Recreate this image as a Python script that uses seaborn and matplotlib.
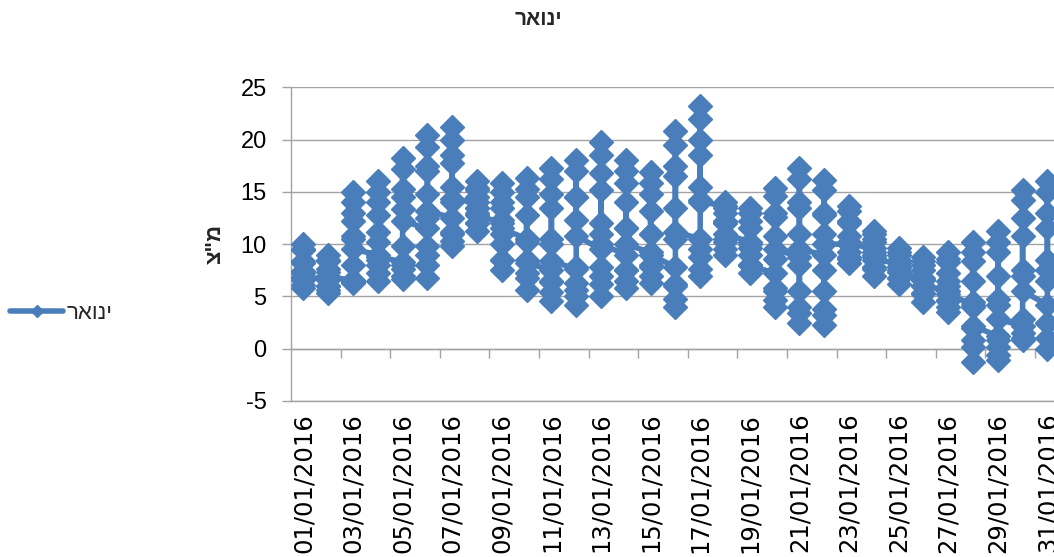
import numpy as np
import pandas as pd
import matplotlib
matplotlib.use("Agg")
import matplotlib.pyplot as plt
import seaborn as sns

# ---------------- data ----------------
dates = ["01/01/2016", "02/01/2016", "03/01/2016", "04/01/2016", "05/01/2016",
         "06/01/2016", "07/01/2016", "08/01/2016", "09/01/2016", "10/01/2016",
         "11/01/2016", "12/01/2016", "13/01/2016", "14/01/2016", "15/01/2016",
         "16/01/2016", "17/01/2016", "18/01/2016", "19/01/2016", "20/01/2016",
         "21/01/2016", "22/01/2016", "23/01/2016", "24/01/2016", "25/01/2016",
         "26/01/2016", "27/01/2016", "28/01/2016", "29/01/2016", "30/01/2016",
         "31/01/2016"]
hours = ["00:00", "02:00", "04:00", "06:00", "08:00", "10:00",
         "12:00", "14:00", "16:00", "18:00", "20:00", "22:00"]

# temperature at each reading hour, one value per day
h00 = [7.2, 6.6, 6.6, 9.0, 8.3, 11.5, 12.5, 14.0, 12.0, 10.5, 7.5, 7.6, 9.5, 9.0, 9.2, 7.8,
       10.5, 13.5, 10.2, 7.2, 8.8, 9.0, 10.0, 9.6, 8.2, 6.8, 5.5, 4.2, 1.2, 2.2, 4.2]
h02 = [6.6, 6.0, 6.4, 8.0, 7.6, 9.8, 11.2, 13.0, 10.0, 8.5, 6.4, 6.3, 7.8, 7.5, 8.0, 6.0,
       8.8, 12.2, 9.0, 5.8, 5.5, 5.5, 9.2, 8.8, 7.5, 6.0, 4.7, 2.0, 0.2, 1.5, 2.5]
h04 = [6.1, 5.6, 6.3, 7.2, 7.0, 8.0, 10.3, 12.0, 8.5, 6.8, 5.4, 5.0, 6.2, 6.5, 7.0, 4.8,
       7.6, 10.5, 8.0, 4.7, 3.4, 3.2, 8.6, 7.6, 6.8, 5.2, 4.0, 0.2, -0.6, 1.0, 1.0]
h06 = [5.8, 5.3, 6.5, 6.5, 6.7, 6.8, 9.8, 11.3, 7.5, 5.6, 4.6, 4.2, 5.0, 5.8, 6.3, 4.0,
       7.0, 9.5, 7.2, 4.0, 2.5, 2.3, 8.2, 7.0, 6.2, 4.5, 3.5, -1.3, -1.1, 0.8, 0.0]
h08 = [6.8, 6.0, 8.0, 8.5, 8.0, 9.0, 11.0, 12.0, 8.5, 7.2, 6.5, 5.6, 7.0, 7.5, 7.8, 6.2,
       9.5, 9.0, 8.0, 5.5, 4.0, 3.8, 8.8, 7.8, 6.8, 5.3, 4.6, 0.8, 0.8, 2.8, 2.5]
h10 = [8.4, 7.3, 10.5, 11.2, 9.8, 12.5, 14.0, 13.5, 11.0, 10.5, 10.0, 7.8, 11.0, 11.5, 11.0, 10.5,
       14.0, 10.2, 10.0, 8.6, 8.0, 7.5, 10.2, 9.0, 7.8, 6.6, 6.5, 4.5, 4.8, 7.0, 7.5]
h12 = [9.5, 8.4, 13.0, 14.0, 14.5, 17.5, 18.5, 15.2, 14.0, 14.5, 14.8, 14.5, 16.8, 15.8, 14.8, 17.5,
       20.0, 12.0, 12.2, 13.0, 14.0, 13.0, 12.2, 10.5, 9.0, 8.0, 8.3, 8.4, 9.2, 12.5, 13.0]
h14 = [10.0, 9.0, 15.0, 16.0, 18.2, 20.4, 21.2, 16.0, 15.8, 16.3, 17.3, 18.0, 19.8, 18.0, 16.9, 20.8,
       23.2, 13.6, 13.5, 15.4, 17.3, 16.1, 13.6, 11.3, 9.6, 8.8, 9.2, 10.2, 11.3, 15.2, 16.0]
h16 = [9.4, 8.5, 14.0, 15.0, 17.2, 19.3, 20.0, 15.4, 15.0, 15.3, 16.2, 17.0, 18.5, 17.0, 15.8, 19.5,
       22.0, 14.0, 13.0, 14.6, 16.2, 15.2, 13.2, 11.0, 9.2, 8.4, 8.6, 9.2, 10.2, 14.2, 15.0]
h18 = [8.2, 7.6, 12.2, 12.8, 15.3, 17.0, 17.8, 14.5, 13.5, 12.8, 13.5, 14.5, 15.2, 14.0, 13.2, 16.5,
       18.5, 13.0, 11.5, 12.6, 13.5, 12.8, 12.0, 10.2, 8.5, 7.5, 7.2, 6.5, 7.0, 10.8, 11.5]
h20 = [7.4, 7.0, 10.8, 10.2, 13.4, 14.8, 15.5, 13.5, 12.3, 10.2, 10.5, 12.3, 12.0, 11.5, 11.0, 13.5,
       15.5, 12.0, 9.6, 10.8, 11.0, 11.0, 10.8, 9.2, 7.8, 6.6, 6.0, 4.0, 4.2, 7.5, 8.5]
h22 = [6.9, 6.8, 9.5, 8.8, 12.2, 13.2, 14.3, 12.8, 11.5, 8.2, 8.4, 10.8, 10.0, 10.0, 9.0, 11.2,
       14.2, 11.0, 8.0, 9.5, 9.5, 10.0, 10.0, 8.5, 7.3, 6.0, 5.2, 2.2, 2.8, 5.5, 6.5]

title_text = "ינואר"
series_name = "ינואר"
y_label = 'מ"צ'

# ---------------- helpers ----------------
def vis(s):
    # matplotlib lays text out left-to-right; reverse Hebrew for visual order
    return s[::-1]

readings = [h00, h02, h04, h06, h08, h10, h12, h14, h16, h18, h20, h22]
for r in readings:
    assert len(r) == len(dates)
rows = []
for d_i, d in enumerate(dates):
    for h_i, h in enumerate(hours):
        rows.append({"pos": d_i, "date": d, "hour": h, "temp": readings[h_i][d_i]})
df = pd.DataFrame(rows)

# ---------------- style ----------------
sns.set_theme(style="white")
plt.rcParams["font.family"] = ["Liberation Sans", "DejaVu Sans"]
plt.rcParams["axes.unicode_minus"] = False

BLUE = "#4A7EBB"
GRAY = "#a3a3a3"

fig = plt.figure(figsize=(10.54, 5.57), dpi=100)
ax = fig.add_axes([0.2761, 0.2801, 0.7294, 0.5632])

sns.lineplot(data=df, x="pos", y="temp", sort=False, estimator=None, ax=ax,
             color=BLUE, linewidth=4, marker="D", markersize=12,
             markeredgecolor=BLUE, markeredgewidth=1, label=vis(series_name),
             legend=False, zorder=3)

ymin, ymax = -5, 25
ax.set_ylim(ymin, ymax)
ax.set_xlim(-0.5, len(dates) - 0.5)
ax.set_yticks(np.arange(-5, 26, 5))
ax.set_xticks(np.arange(0, len(dates), 2))
ax.set_xticklabels([dates[i] for i in range(0, len(dates), 2)], rotation=90, va="top",
                   family=["DejaVu Sans"])
ax.tick_params(axis="x", length=0, pad=8.5, labelsize=17.5, colors="black")
ax.tick_params(axis="y", direction="out", length=6.5, width=1, color=GRAY,
               pad=11, labelsize=17, labelcolor="black", left=True)
ax.yaxis.grid(True, color=GRAY, linewidth=1)
ax.xaxis.grid(False)
for s in ["top", "right"]:
    ax.spines[s].set_visible(False)
for s in ["left", "bottom"]:
    ax.spines[s].set_color(GRAY)
    ax.spines[s].set_linewidth(1)
ax.set_xlabel("")
ax.set_ylabel(vis(y_label), fontsize=16, fontweight="bold", rotation=90)
ax.yaxis.set_label_coords(-0.085, 0.5)

# category axis crossing at 0 with tick marks between every second category
sec = ax.secondary_xaxis((0 - ymin) / (ymax - ymin))
sec.set_alignment("bottom")
sec.set_xticks(np.arange(1.5, len(dates), 2))
sec.tick_params(axis="x", direction="out", length=6.5, width=1, color=GRAY,
                labelbottom=False, labeltop=False)
sec.spines["bottom"].set_color(GRAY)
sec.spines["bottom"].set_linewidth(1)

fig.suptitle(vis(title_text), x=0.511, y=0.965, va="center",
             fontsize=15, fontweight="bold")

leg = fig.legend(loc="center left", bbox_to_anchor=(0.0095, 0.438), frameon=False,
                 fontsize=16, handlelength=2.4, handletextpad=0.15,
                 borderpad=0, borderaxespad=0)
for h in leg.legend_handles:
    h.set_markersize(6.5)

fig.savefig("out.png", dpi=100)
